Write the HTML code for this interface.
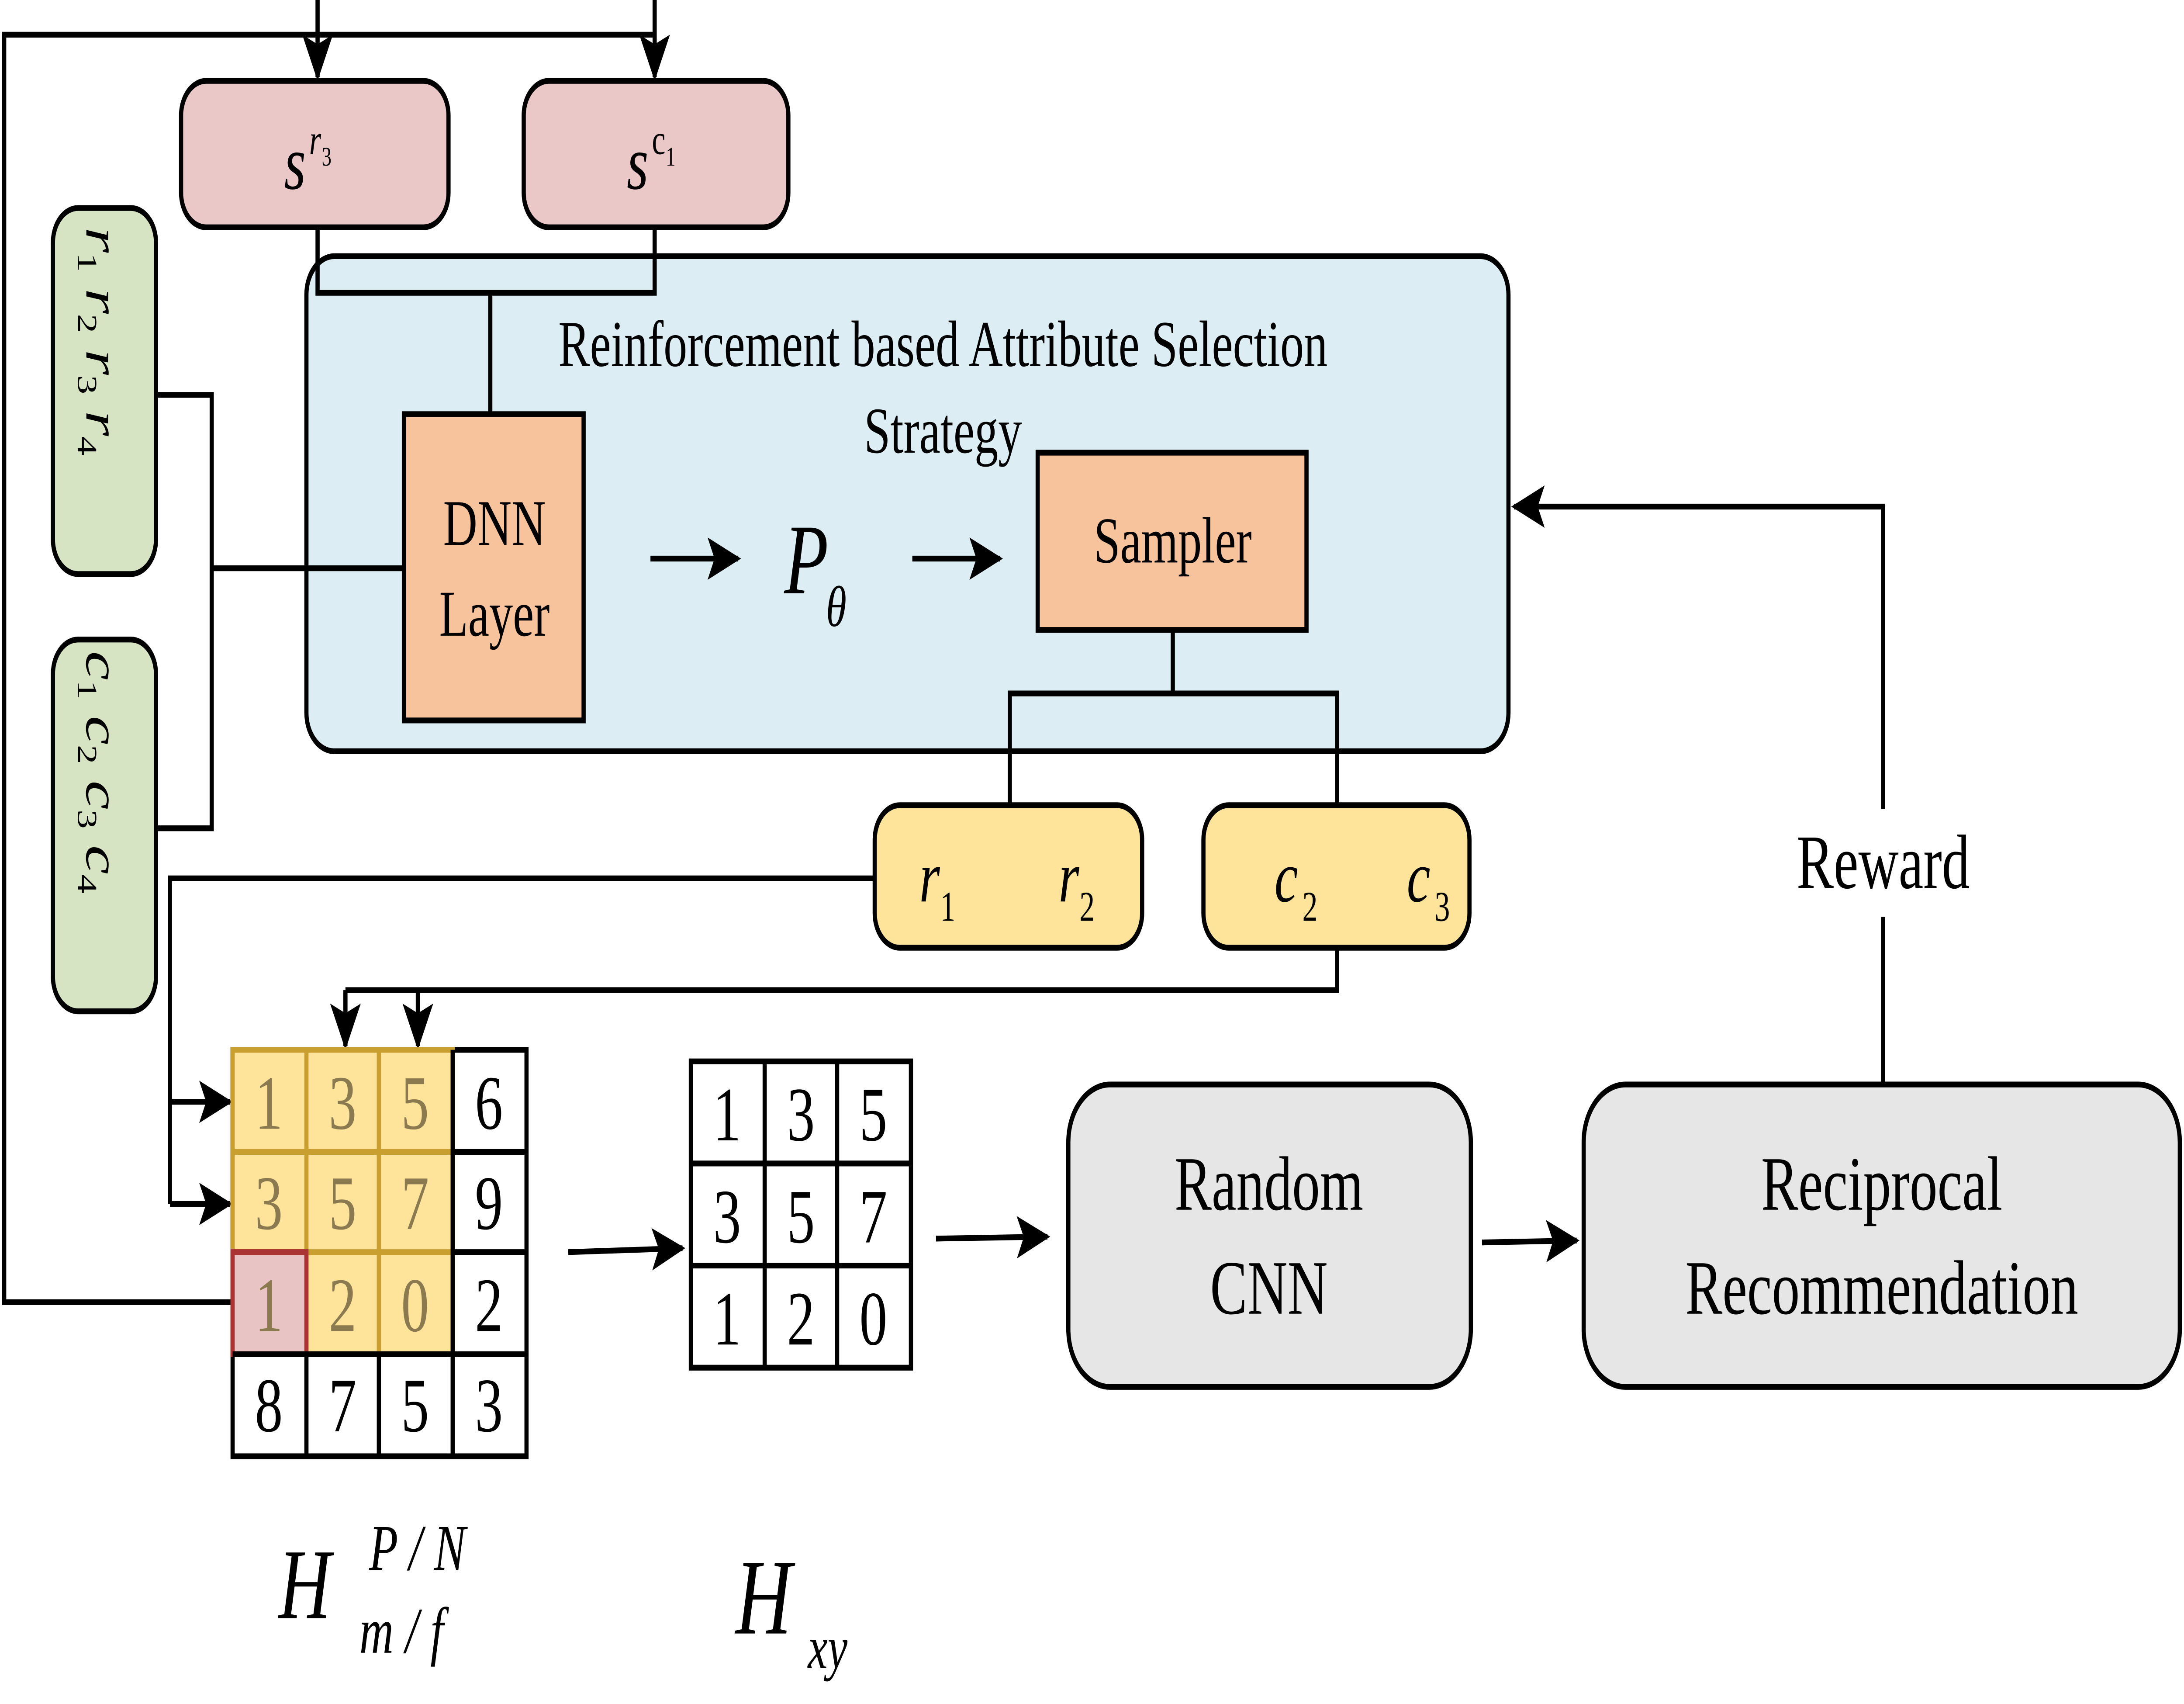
<!DOCTYPE html>
<html><head><meta charset="utf-8"><style>html,body{margin:0;padding:0;background:#fff;width:100%;height:100%;overflow:hidden}svg{display:block;position:absolute;left:0;top:0;width:100vw;height:100vh}</style></head><body>
<svg viewBox="0 0 1568 884.6" preserveAspectRatio="none" xmlns="http://www.w3.org/2000/svg" font-family="Liberation Serif, serif">
<defs>
<marker id="b" markerWidth="24" markerHeight="22" refX="22" refY="11" orient="auto" markerUnits="userSpaceOnUse"><path d="M0,0 L24,11 L0,22 L5,11 z" fill="#000"/></marker></defs>
<g fill="none" stroke="#000" stroke-width="3">
<polyline points="167,676 3,676 3,18 470,18"/>
<line x1="228" y1="0" x2="228" y2="40" marker-end="url(#b)"/>
<line x1="470" y1="0" x2="470" y2="40" marker-end="url(#b)"/>
</g>
<rect x="220" y="133" width="863" height="257" rx="20" fill="#dcedf3" stroke="#000" stroke-width="3"/>
<rect x="130" y="42" width="192" height="76" rx="18" fill="#eac8c8" stroke="#000" stroke-width="3"/>
<rect x="376" y="42" width="190" height="76" rx="18" fill="#eac8c8" stroke="#000" stroke-width="3"/>
<g fill="none" stroke="#000" stroke-width="3">
<polyline points="228,118 228,152 470,152 470,118"/>
<line x1="352" y1="152" x2="352" y2="215"/>
<polyline points="112,205 152,205 152,430 112,430"/>
<line x1="152" y1="295" x2="290" y2="295"/>
<polyline points="842,327 842,360"/>
<polyline points="725,418 725,360 960,360 960,418"/>
<polyline points="628,456 122,456 122,625"/>
<line x1="122" y1="572" x2="165" y2="572" marker-end="url(#b)"/>
<line x1="122" y1="625" x2="165" y2="625" marker-end="url(#b)"/>
<polyline points="960,492 960,514 248,514"/>
<line x1="248" y1="514" x2="248" y2="543" marker-end="url(#b)"/>
<line x1="300" y1="514" x2="300" y2="543" marker-end="url(#b)"/>
<line x1="467" y1="290" x2="530" y2="290" marker-end="url(#b)"/>
<line x1="655" y1="290" x2="718" y2="290" marker-end="url(#b)"/>
<line x1="408" y1="650" x2="490" y2="648" marker-end="url(#b)"/>
<line x1="672" y1="643" x2="752" y2="642" marker-end="url(#b)"/>
<line x1="1064" y1="645" x2="1132" y2="644" marker-end="url(#b)"/>
<polyline points="1352,563 1352,476"/>
<polyline points="1352,420 1352,263 1087,263" marker-end="url(#b)"/>
</g>
<rect x="290" y="215" width="129" height="159" fill="#f7c39d" stroke="#000" stroke-width="3"/>
<rect x="745" y="235" width="193" height="92" fill="#f7c39d" stroke="#000" stroke-width="3"/>
<rect x="628" y="418" width="192" height="74" rx="18" fill="#fde49a" stroke="#000" stroke-width="3"/>
<rect x="864" y="418" width="191" height="74" rx="18" fill="#fde49a" stroke="#000" stroke-width="3"/>
<rect x="38" y="108" width="74" height="190" rx="18" fill="#d6e4c4" stroke="#000" stroke-width="3"/>
<rect x="38" y="332" width="74" height="193" rx="18" fill="#d6e4c4" stroke="#000" stroke-width="3"/>
<rect x="767" y="563" width="289" height="157" rx="30" fill="#e6e6e6" stroke="#000" stroke-width="3"/>
<rect x="1137" y="563" width="428" height="157" rx="30" fill="#e6e6e6" stroke="#000" stroke-width="3"/>
<rect x="167" y="545" width="211" height="211" stroke="#000" stroke-width="3" fill="#fff"/>
<g stroke-width="3">
<rect x="167" y="545" width="158" height="158" fill="#fde49a" stroke="#c9a030"/>
<line x1="167" y1="598" x2="325" y2="598" stroke="#c9a030"/>
<line x1="167" y1="650" x2="325" y2="650" stroke="#c9a030"/>
<line x1="220" y1="545" x2="220" y2="703" stroke="#c9a030"/>
<line x1="272" y1="545" x2="272" y2="703" stroke="#c9a030"/>
<rect x="167" y="650" width="53" height="53" fill="#e8c4c4" stroke="#a33"/>
<line x1="325" y1="545" x2="325" y2="756" stroke="#000"/>
<line x1="325" y1="598" x2="378" y2="598" stroke="#000"/>
<line x1="325" y1="650" x2="378" y2="650" stroke="#000"/>
<line x1="167" y1="703" x2="378" y2="703" stroke="#000"/>
<line x1="220" y1="703" x2="220" y2="756" stroke="#000"/>
<line x1="272" y1="703" x2="272" y2="756" stroke="#000"/>
</g>
<g font-size="40" text-anchor="middle">
<g fill="#8b7a50"><text x="193" y="586">1</text><text x="246" y="586">3</text><text x="298" y="586">5</text>
<text x="193" y="638">3</text><text x="246" y="638">5</text><text x="298" y="638">7</text>
<text x="193" y="691">1</text><text x="246" y="691">2</text><text x="298" y="691">0</text></g>
<text x="351" y="586">6</text><text x="351" y="638">9</text><text x="351" y="691">2</text>
<text x="193" y="743">8</text><text x="246" y="743">7</text><text x="298" y="743">5</text><text x="351" y="743">3</text>
</g>
<g stroke="#000" stroke-width="3" fill="none">
<rect x="496" y="551" width="158" height="159"/>
<line x1="549" y1="551" x2="549" y2="710"/><line x1="601" y1="551" x2="601" y2="710"/>
<line x1="496" y1="604" x2="654" y2="604"/><line x1="496" y1="657" x2="654" y2="657"/>
</g>
<g font-size="40" text-anchor="middle">
<text x="522" y="592">1</text><text x="575" y="592">3</text><text x="627" y="592">5</text>
<text x="522" y="645">3</text><text x="575" y="645">5</text><text x="627" y="645">7</text>
<text x="522" y="698">1</text><text x="575" y="698">2</text><text x="627" y="698">0</text>
</g>
<g font-size="34" text-anchor="middle">
<text x="677" y="190">Reinforcement based Attribute Selection</text>
<text x="677" y="235">Strategy</text>
<text x="355" y="283">DNN</text><text x="355" y="330">Layer</text>
<text x="842" y="292">Sampler</text>
</g>
<g font-size="40" text-anchor="middle">
<text x="911" y="628">Random</text><text x="911" y="682">CNN</text>
<text x="1351" y="628">Reciprocal</text><text x="1351" y="682">Recommendation</text>
<text x="1352" y="461">Reward</text>
</g>
<g font-style="italic">
<text x="563" y="308" font-size="52">P</text><text x="593" y="325" font-size="30">θ</text>
<text x="204" y="98" font-size="40">s</text><text x="222" y="80" font-size="22">r</text><text x="231" y="86" font-size="14" font-style="normal">3</text>
<text x="450" y="98" font-size="40">s</text><text x="468" y="80" font-size="22" font-style="normal">c</text><text x="478" y="86" font-size="14" font-style="normal">1</text>
<text x="660" y="468" font-size="38">r</text><text x="675" y="478" font-size="22" font-style="normal">1</text>
<text x="760" y="468" font-size="38">r</text><text x="775" y="478" font-size="22" font-style="normal">2</text>
<text x="915" y="468" font-size="38">c</text><text x="935" y="478" font-size="22" font-style="normal">2</text>
<text x="1010" y="468" font-size="38">c</text><text x="1030" y="478" font-size="22" font-style="normal">3</text>
<text x="200" y="840" font-size="52">H</text>
<text x="265" y="815" font-size="34">P / N</text>
<text x="258" y="858" font-size="34">m / f</text>
<text x="528" y="848" font-size="56">H</text>
<text x="580" y="866" font-size="32">xy</text>
</g>
<g font-style="italic" font-size="34">
<text transform="translate(62,118) rotate(90)">r<tspan font-size="20" font-style="normal" dy="6">1</tspan><tspan dy="-6"> r</tspan><tspan font-size="20" font-style="normal" dy="6">2</tspan><tspan dy="-6"> r</tspan><tspan font-size="20" font-style="normal" dy="6">3</tspan><tspan dy="-6"> r</tspan><tspan font-size="20" font-style="normal" dy="6">4</tspan></text>
<text transform="translate(62,338) rotate(90)">c<tspan font-size="20" font-style="normal" dy="6">1</tspan><tspan dy="-6"> c</tspan><tspan font-size="20" font-style="normal" dy="6">2</tspan><tspan dy="-6"> c</tspan><tspan font-size="20" font-style="normal" dy="6">3</tspan><tspan dy="-6"> c</tspan><tspan font-size="20" font-style="normal" dy="6">4</tspan></text>
</g>
</svg>
</body></html>
